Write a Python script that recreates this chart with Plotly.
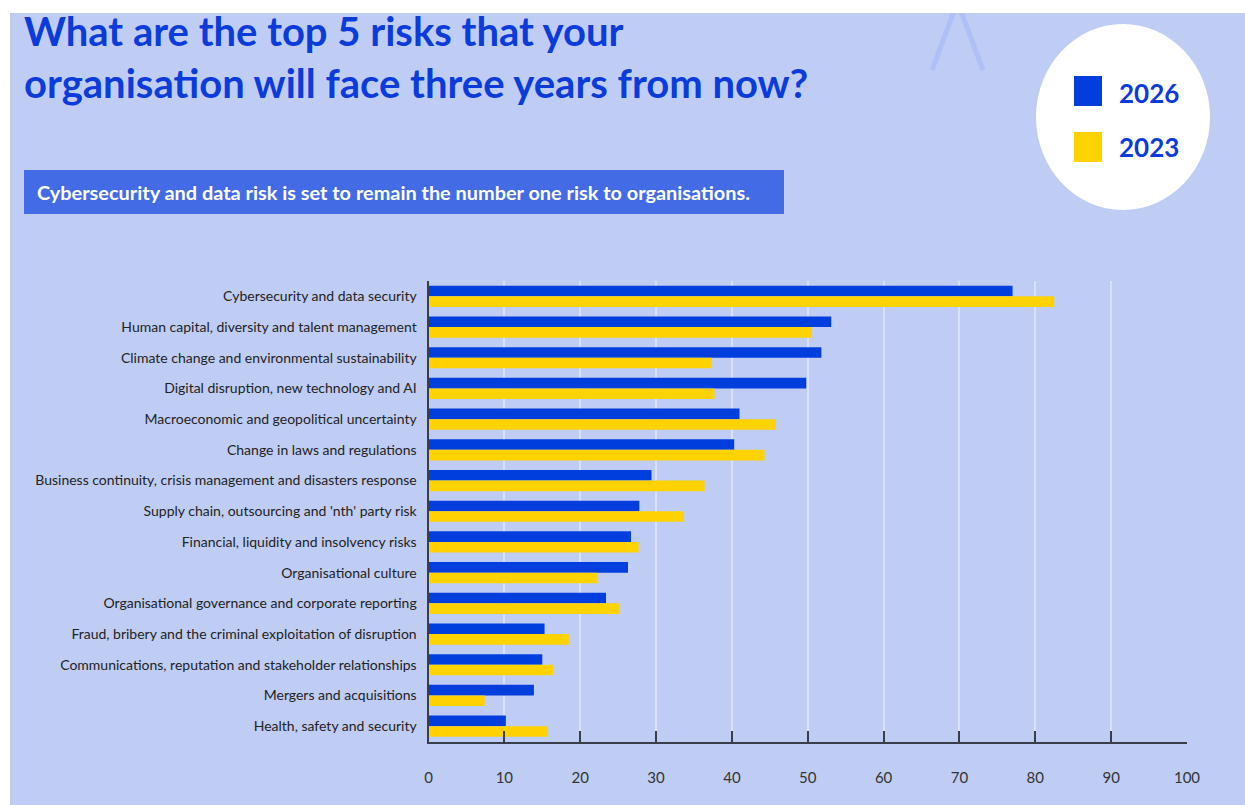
import plotly.graph_objects as go

W, H = 1245, 805

categories = [
    "Cybersecurity and data security",
    "Human capital, diversity and talent management",
    "Climate change and environmental sustainability",
    "Digital disruption, new technology and AI",
    "Macroeconomic and geopolitical uncertainty",
    "Change in laws and regulations",
    "Business continuity, crisis management and disasters response",
    "Supply chain, outsourcing and 'nth' party risk",
    "Financial, liquidity and insolvency risks",
    "Organisational culture",
    "Organisational governance and corporate reporting",
    "Fraud, bribery and the criminal exploitation of disruption",
    "Communications, reputation and stakeholder relationships",
    "Mergers and acquisitions",
    "Health, safety and security",
]
values_2026 = [77.0, 53.1, 51.8, 49.8, 41.0, 40.3, 29.4, 27.8, 26.7, 26.3, 23.4, 15.3, 15.0, 13.9, 10.2]
values_2023 = [82.5, 50.5, 37.3, 37.7, 45.8, 44.3, 36.4, 33.6, 27.7, 22.2, 25.1, 18.5, 16.4, 7.4, 15.7]
series_names = ["2026", "2023"]
x_ticks = [0, 10, 20, 30, 40, 50, 60, 70, 80, 90, 100]

title_text = "What are the top 5 risks that your<br>organisation will face three years from now?"
subtitle_text = "Cybersecurity and data risk is set to remain the number one risk to organisations."

BLUE = "#003FDD"
YELLOW = "#FFD200"
BG = "#BFCDF5"
TITLE_BLUE = "#0B3BDB"


def X(px):
    return px / W


def Y(py):
    return 1 - py / H


fig = go.Figure()
fig.add_trace(go.Bar(y=categories, x=values_2026, name=series_names[0], orientation="h",
                     marker=dict(color=BLUE, line=dict(width=0))))
fig.add_trace(go.Bar(y=categories, x=values_2023, name=series_names[1], orientation="h",
                     marker=dict(color=YELLOW, line=dict(width=0))))

shapes = [
    # lavender background panel
    dict(type="rect", xref="paper", yref="paper", x0=X(10), x1=X(W), y0=Y(H), y1=Y(13),
         fillcolor=BG, line=dict(width=0), layer="below"),
    # decorative chevron
    dict(type="line", xref="paper", yref="paper", x0=X(932), y0=Y(70), x1=X(956), y1=Y(6),
         line=dict(color="#AFC0F5", width=5), layer="below"),
    dict(type="line", xref="paper", yref="paper", x0=X(983), y0=Y(70), x1=X(959), y1=Y(6),
         line=dict(color="#AFC0F5", width=5), layer="below"),
    # white top strip
    dict(type="rect", xref="paper", yref="paper", x0=0, x1=1, y0=Y(13), y1=1,
         fillcolor="white", line=dict(width=0), layer="below"),
    # subtitle box
    dict(type="rect", xref="paper", yref="paper", x0=X(24), x1=X(784), y0=Y(214), y1=Y(170),
         fillcolor="#436BE6", line=dict(width=0), layer="below"),
    # legend circle
    dict(type="circle", xref="paper", yref="paper", x0=X(1036), x1=X(1210), y0=Y(210), y1=Y(24),
         fillcolor="white", line=dict(width=0), layer="below"),
    # legend swatches
    dict(type="rect", xref="paper", yref="paper", x0=X(1074), x1=X(1102), y0=Y(106), y1=Y(76),
         fillcolor=BLUE, line=dict(width=0), layer="above"),
    dict(type="rect", xref="paper", yref="paper", x0=X(1074), x1=X(1102), y0=Y(162), y1=Y(132),
         fillcolor=YELLOW, line=dict(width=0), layer="above"),
]

annotations = [
    dict(text=title_text, xref="paper", yref="paper", x=X(22), y=Y(57), xanchor="left", yanchor="middle",
         align="left", showarrow=False,
         font=dict(family="Lato", size=40, color=TITLE_BLUE, weight="bold")),
    dict(text="<b>" + subtitle_text + "</b>", xref="paper", yref="paper", x=X(35), y=Y(192),
         xanchor="left", yanchor="middle", showarrow=False,
         font=dict(family="Lato", size=19.9, color="white")),
    dict(text="<b>" + series_names[0] + "</b>", xref="paper", yref="paper", x=X(1117), y=Y(93),
         xanchor="left", yanchor="middle", showarrow=False,
         font=dict(family="Lato", size=26, color=TITLE_BLUE)),
    dict(text="<b>" + series_names[1] + "</b>", xref="paper", yref="paper", x=X(1117), y=Y(147),
         xanchor="left", yanchor="middle", showarrow=False,
         font=dict(family="Lato", size=26, color=TITLE_BLUE)),
]

fig.update_layout(
    width=W, height=H,
    autosize=False,
    margin=dict(l=0, r=0, t=0, b=0, pad=0, autoexpand=False),
    paper_bgcolor="white",
    plot_bgcolor="rgba(0,0,0,0)",
    barmode="group",
    bargap=0.31,
    bargroupgap=0,
    showlegend=False,
    shapes=shapes,
    annotations=annotations,
    xaxis=dict(
        domain=[X(428.5), X(1187)],
        range=[0, 100],
        automargin=False,
        tickvals=x_ticks,
        ticktext=[str(v) for v in x_ticks],
        ticks="inside", ticklen=11, tickwidth=2, tickcolor="#3a3d4a",
        showline=True, linecolor="#3a3d4a", linewidth=2,
        showgrid=True, gridcolor="rgba(255,255,255,0.4)", gridwidth=1.5,
        zeroline=False,
        ticklabelstandoff=21,
        tickfont=dict(family="Lato", size=15, color="#333333"),
    ),
    yaxis=dict(
        domain=[Y(741.5), Y(281)],
        autorange="reversed",
        automargin=False,
        showline=True, linecolor="#3a3d4a", linewidth=2,
        showgrid=False, zeroline=False,
        ticks="", ticklabelstandoff=7,
        tickfont=dict(family="Lato", size=14, color="#222222"),
    ),
)

fig.write_html("out.html")
